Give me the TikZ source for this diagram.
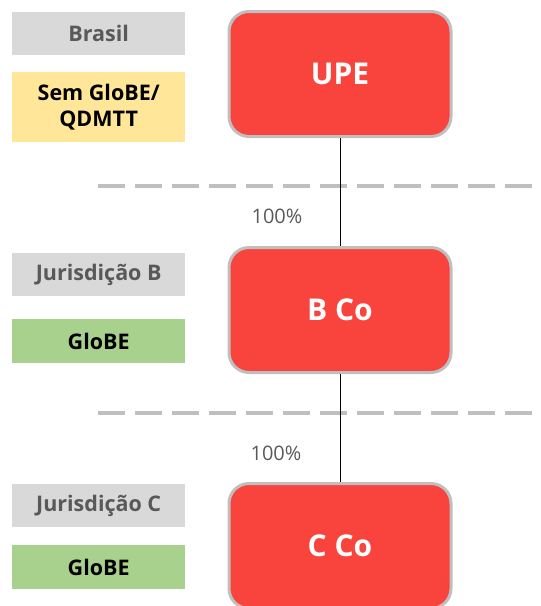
\documentclass[tikz,border=0pt]{standalone}
\usepackage{fontspec}
\setmainfont{Open Sans}
\definecolor{entred}{HTML}{F9443D}
\definecolor{entborder}{HTML}{BFBFBF}
\definecolor{tagGray}{HTML}{D9D9D9}
\definecolor{tagText}{HTML}{595959}
\definecolor{tagYellow}{HTML}{FFE699}
\definecolor{tagGreen}{HTML}{A9D18E}
\definecolor{sepGray}{HTML}{BFBFBF}
\tikzset{
  entity/.style={draw=entborder, line width=3pt, fill=entred, rounded corners=20pt,
    minimum width=222pt, minimum height=125pt, inner sep=0pt,
    text=white, font=\bfseries\fontsize{30}{34}\selectfont},
  jur/.style={fill=tagGray, minimum width=173pt, minimum height=43pt, inner sep=0pt,
    text=tagText, font=\bfseries\fontsize{21.5}{25}\selectfont},
  rule/.style={minimum width=173pt, inner sep=0pt, align=center,
    text=black, font=\bfseries\fontsize{21.5}{26}\selectfont},
  share/.style={text=tagText, font=\fontsize{20}{24}\selectfont, inner sep=0pt},
  link/.style={draw=black, line width=0.8pt},
  sep/.style={draw=sepGray, line width=3.5pt, dash pattern=on 27pt off 10pt}
}
\begin{document}
\begin{tikzpicture}[x=1pt,y=-1pt]
\useasboundingbox (0,0) rectangle (541,606);
% jurisdiction tags
\node[jur, anchor=north west] (jA) at (12,12) {Brasil};
\node[rule, fill=tagYellow, minimum height=70pt, anchor=north west] (rA) at (12,72) {Sem GloBE/\\QDMTT};
\node[jur, anchor=north west] (jB) at (12,253) {Jurisdição B};
\node[rule, fill=tagGreen, minimum height=44pt, anchor=north west] (rB) at (12,319) {GloBE};
\node[jur, anchor=north west] (jC) at (12,484) {Jurisdição C};
\node[rule, fill=tagGreen, minimum height=44pt, anchor=north west] (rC) at (12,545) {GloBE};
% separators
\coordinate (s1a) at (98,186); \coordinate (s1b) at (535,186);
\coordinate (s2a) at (98,413); \coordinate (s2b) at (535,413);
\draw[sep] (s1a) -- (s1b);
\draw[sep] (s2a) -- (s2b);
% entities
\node[entity] (upe) at (340,74) {UPE};
\node[entity] (bco) at (340,310) {B Co};
\node[entity] (cco) at (340,546) {C Co};
% ownership links
\draw[link] (upe.south) -- (bco.north);
\draw[link] (bco.south) -- (cco.north);
\node[share] (p1) at (277,216) {100\%};
\node[share] (p2) at (276,453) {100\%};
\end{tikzpicture}
\end{document}
